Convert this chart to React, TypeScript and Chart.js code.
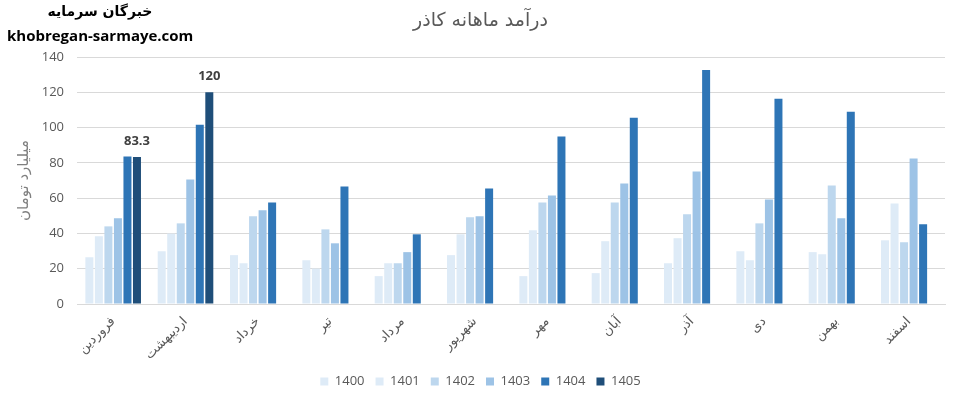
import React, { useEffect, useRef } from "react";
import { Chart, registerables } from "chart.js";

Chart.register(...registerables);

const months = [
  "فروردین",
  "اردیبهشت",
  "خرداد",
  "تیر",
  "مرداد",
  "شهریور",
  "مهر",
  "آبان",
  "آذر",
  "دی",
  "بهمن",
  "اسفند",
];

const yearLabels = ["1400", "1401", "1402", "1403", "1404", "1405"];

const y1400 = [26.5, 29.9, 27.7, 24.8, 15.8, 27.7, 15.8, 17.5, 23.1, 29.9, 29.4, 36.1];
const y1401 = [38.4, 39.9, 23.1, 20.1, 23.1, 39.5, 41.8, 35.6, 37.3, 24.8, 28.2, 57.0];
const y1402 = [44.0, 45.7, 49.7, 42.3, 23.1, 49.1, 57.6, 57.6, 50.8, 45.7, 67.2, 35.0];
const y1403 = [48.6, 70.6, 53.1, 34.4, 29.4, 49.7, 61.5, 68.3, 75.1, 59.3, 48.6, 82.4];
const y1404 = [83.6, 101.6, 57.6, 66.6, 39.5, 65.5, 94.9, 105.6, 132.7, 116.3, 109.0, 45.2];
const y1405: (number | null)[] = [83.3, 120, null, null, null, null, null, null, null, null, null, null];

const yTicksMax = 140;
const yTickStep = 20;

const colors = ["#DEEBF7", "#DEEBF7", "#BDD7EE", "#9DC3E6", "#2E75B6", "#1F4E79"];

const chartTitle = "درآمد ماهانه کاذر";
const yAxisTitle = "میلیارد تومان";

const latinFont = "'Open Sans', 'DejaVu Sans', sans-serif";
const persianFont = "'DejaVu Sans', sans-serif";

const valueLabelPlugin = {
  id: "valueLabels",
  afterDatasetsDraw(chart: any) {
    const ctx = chart.ctx;
    const idx = 5;
    const meta = chart.getDatasetMeta(idx);
    const data = chart.data.datasets[idx].data;
    ctx.save();
    ctx.font = `bold 13px ${latinFont}`;
    ctx.fillStyle = "#404040";
    ctx.textAlign = "center";
    ctx.textBaseline = "middle";
    meta.data.forEach((el: any, i: number) => {
      const v = data[i];
      if (v === null || v === undefined) return;
      ctx.fillText(String(v), el.x, el.y - 16);
    });
    ctx.restore();
  },
};

const shiftBoxesPlugin = {
  id: "shiftBoxes",
  afterLayout(chart: any) {
    const boxes = [chart.legend, chart.titleBlock];
    boxes.forEach((b: any) => {
      if (!b) return;
      b.left += 8;
      b.right += 8;
    });
  },
};

export default function App() {
  const ref = useRef<HTMLCanvasElement | null>(null);

  useEffect(() => {
    if (!ref.current) return;
    const series = [y1400, y1401, y1402, y1403, y1404, y1405];
    const chart = new Chart(ref.current, {
      type: "bar",
      data: {
        labels: months,
        datasets: series.map((d, i) => ({
          label: yearLabels[i],
          data: d,
          backgroundColor: colors[i],
          borderWidth: 0,
          categoryPercentage: 0.79,
          barPercentage: 0.84,
        })),
      },
      options: {
        animation: false,
        responsive: false,
        maintainAspectRatio: false,
        layout: { padding: { left: 0, right: 10, top: 0, bottom: 4 } },
        plugins: {
          title: {
            display: true,
            text: chartTitle,
            color: "#595959",
            font: { family: persianFont, size: 19, weight: "normal" },
            padding: { top: 9.6, bottom: 24.6 },
          },
          legend: {
            position: "bottom",
            labels: {
              boxWidth: 8,
              boxHeight: 8,
              padding: 11,
              color: "#595959",
              font: { family: latinFont, size: 13 },
            },
          },
          tooltip: { enabled: false },
        },
        scales: {
          x: {
            grid: { display: false },
            border: { display: true, color: "#D9D9D9", width: 1 },
            ticks: {
              color: "#595959",
              font: { family: persianFont, size: 13 },
              maxRotation: 45,
              minRotation: 45,
              autoSkip: false,
              padding: 2,
            },
            afterFit: (scale: any) => {
              scale.height = 60;
            },
          },
          y: {
            min: 0,
            max: yTicksMax,
            grid: { color: "#D9D9D9", drawTicks: false },
            border: { display: false },
            ticks: {
              stepSize: yTickStep,
              color: "#595959",
              padding: 13,
              font: { family: latinFont, size: 13 },
            },
            title: {
              display: true,
              text: yAxisTitle,
              color: "#7F7F7F",
              font: { family: persianFont, size: 15 },
              padding: { top: 15, bottom: 0 },
            },
            afterFit: (scale: any) => {
              scale.width = 77;
            },
          },
        },
      },
      plugins: [valueLabelPlugin, shiftBoxesPlugin],
    });
    return () => chart.destroy();
  }, []);

  return (
    <div style={{ position: "absolute", left: 0, top: 0, width: 955, height: 402, background: "#fff" }}>
      <canvas ref={ref} width={955} height={402} style={{ width: 955, height: 402, display: "block" }} />
      <div
        style={{
          position: "absolute",
          left: 0,
          top: 3,
          width: 200,
          textAlign: "center",
          fontFamily: persianFont,
          fontWeight: "bold",
          fontSize: 14,
          color: "#000",
          direction: "rtl",
        }}
      >
        خبرگان سرمایه
      </div>
      <div
        style={{
          position: "absolute",
          left: 7,
          top: 25,
          fontFamily: latinFont,
          fontWeight: "bold",
          fontSize: 15,
          color: "#000",
          whiteSpace: "nowrap",
        }}
      >
        khobregan-sarmaye.com
      </div>
    </div>
  );
}
